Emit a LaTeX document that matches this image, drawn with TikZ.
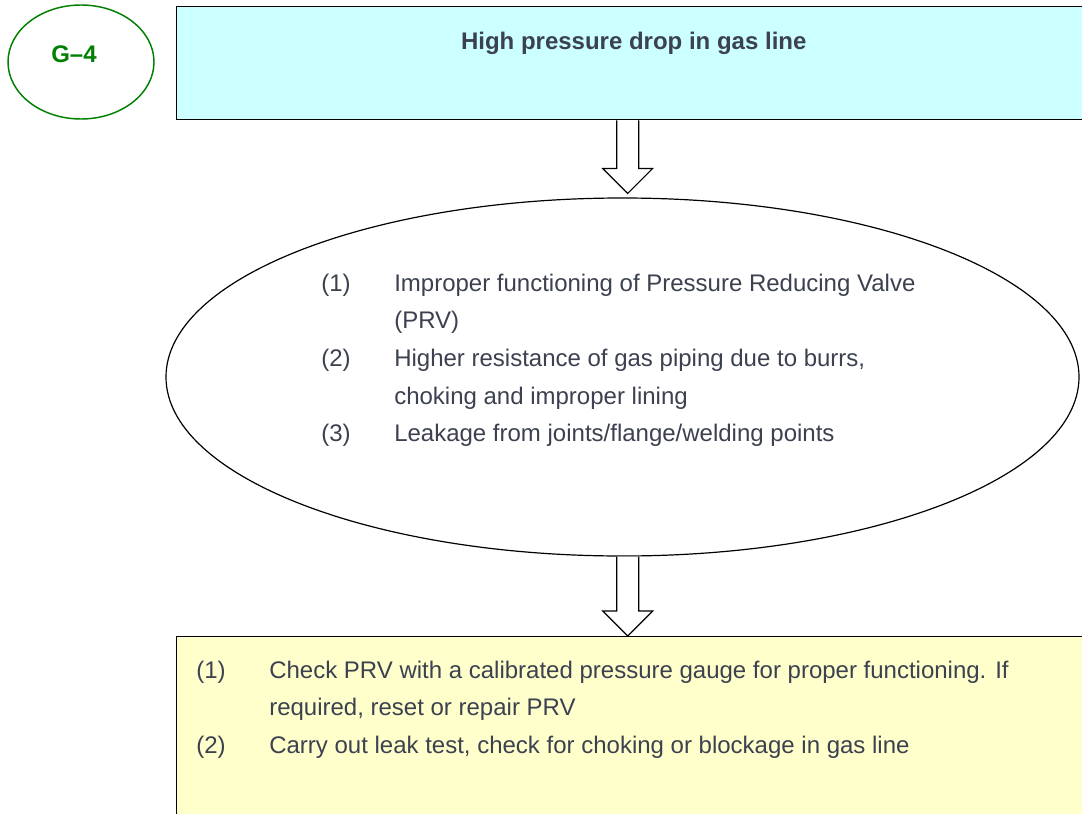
\documentclass[tikz,border=0pt]{standalone}
\usepackage{fontspec}
\setmainfont{Liberation Sans}
\usetikzlibrary{shapes.geometric,calc}

\definecolor{textgray}{HTML}{3C4150}
\definecolor{boxcyan}{HTML}{CCFFFF}
\definecolor{boxyellow}{HTML}{FFFFCC}
\definecolor{codegreen}{HTML}{008000}

\tikzset{
	box/.style={draw=black, line width=1.1pt, rectangle, inner sep=0pt,
		minimum width=685.5pt, anchor=north west},
	bodytext/.style={text=textgray, inner sep=0pt, anchor=base west,
		font=\fontsize{18}{28.3}\selectfont},
	arrowline/.style={draw=black, line width=0.9pt, fill=white, line join=miter},
}

% block arrow from #1 (shaft start) to #2 (tip)
\newcommand{\blockarrow}[2]{%
	\draw[arrowline] ($(#1)+(-11,0)$) -- ($(#2)+(-11,-25)$) -- ($(#2)+(-25,-25)$)
		-- (#2) -- ($(#2)+(25,-25)$) -- ($(#2)+(11,-25)$) -- ($(#1)+(11,0)$);}

\begin{document}
\begin{tikzpicture}[x=0.75pt, y=-0.75pt]
	\fill[white] (0,0) rectangle (1082,814);
	\useasboundingbox (0,0) rectangle (1082,814);
	\clip (0,0) rectangle (1082,814);
	
	% label of the chart
	\node[draw=codegreen, line width=1.1pt, ellipse, minimum width=109.5pt,
		minimum height=85.5pt, inner sep=0pt] (code) at (81,62) {};
	\node[text=codegreen, font=\fontsize{18}{20}\selectfont\bfseries] (codetext)
		at ([xshift=-5.25pt, yshift=5.5pt]code.center) {G--4};
	
	% problem
	\node[box, fill=boxcyan, minimum height=84.75pt] (problem) at (176,6) {};
	\node[text=textgray, font=\fontsize{18}{20}\selectfont\bfseries, anchor=base,
		inner sep=0pt] (problemtext) at ([yshift=-32.6pt]problem.north)
		{High pressure drop in gas line};
	
	% causes
	\node[draw=black, line width=0.9pt, ellipse, minimum width=684.75pt,
		minimum height=268.5pt, inner sep=0pt] (cause) at (622.5,377) {};
	\node[bodytext] (causetext) at (321,291) {%
		\begin{tabular}[t]{@{}p{54.75pt}@{}l@{}}
			(1) & Improper functioning of Pressure Reducing Valve \\
			    & (PRV) \\
			(2) & Higher resistance of gas piping due to burrs, \\
			    & choking and improper lining \\
			(3) & Leakage from joints/flange/welding points
		\end{tabular}};
	
	% remedies
	\node[box, fill=boxyellow, minimum height=150pt] (action) at (176,636) {};
	\node[bodytext] (actiontext) at ([xshift=15pt, yshift=-31.5pt]action.north west) {%
		\begin{tabular}[t]{@{}p{54.75pt}@{}l@{}}
			(1) & Check PRV with a calibrated pressure gauge for proper functioning. If \\
			    & required, reset or repair PRV \\
			(2) & Carry out leak test, check for choking or blockage in gas line
		\end{tabular}};
	
	% arrows
	\coordinate (a1) at ([xshift=-4.5pt]problem.south);
	\coordinate (a1tip) at ([yshift=3pt]a1 |- cause.north);
	\coordinate (a2) at (a1 |- cause.south);
	\coordinate (a2tip) at (a1 |- action.north);
	\blockarrow{a1}{a1tip}
	\blockarrow{a2}{a2tip}
\end{tikzpicture}
\end{document}
